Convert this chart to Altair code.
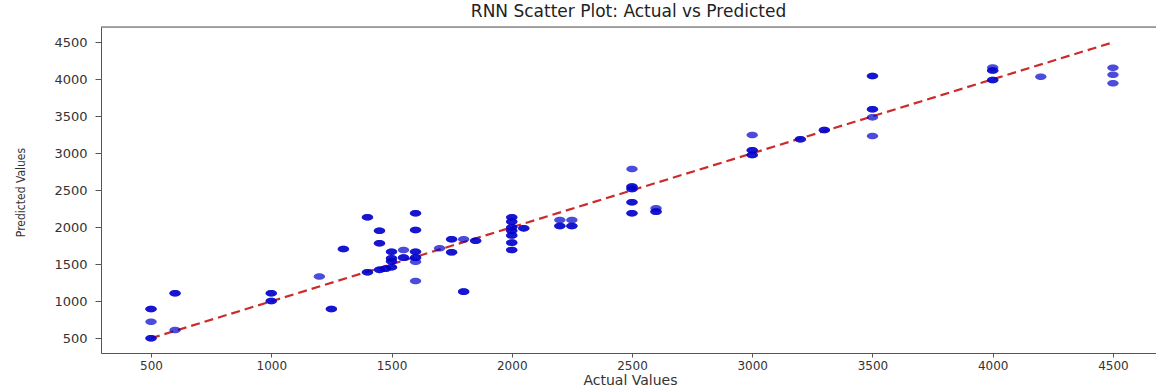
import altair as alt
import pandas as pd

# Values (repeated pairs = overlapping markers)
actual = [
    500, 500, 500, 500, 500,
    600, 600, 600,
    1000, 1000, 1000, 1000,
    1200,
    1250, 1250,
    1300, 1300,
    1400, 1400, 1400, 1400,
    1450, 1450, 1450, 1450, 1450, 1450,
    1475, 1475,
    1500, 1500, 1500, 1500, 1500, 1500, 1500, 1500,
    1550, 1550, 1550,
    1600, 1600, 1600, 1600, 1600, 1600, 1600, 1600, 1600, 1600,
    1700,
    1750, 1750, 1750, 1750,
    1800, 1800, 1800,
    1850, 1850,
    2000, 2000, 2000, 2000, 2000, 2000, 2000, 2000, 2000, 2000, 2000, 2000, 2000, 2000,
    2050, 2050,
    2200, 2200, 2200,
    2250, 2250, 2250,
    2500, 2500, 2500, 2500, 2500, 2500, 2500, 2500, 2500,
    2600, 2600, 2600,
    3000, 3000, 3000, 3000, 3000,
    3200, 3200,
    3300, 3300,
    3500, 3500, 3500, 3500, 3500, 3500,
    4000, 4000, 4000, 4000, 4000,
    4200,
    4500, 4500, 4500,
]
predicted = [
    500, 500, 724, 896, 896,
    1108, 1108, 612,
    1108, 1108, 1004, 1004,
    1335,
    896, 896,
    1707, 1707,
    2135, 2135, 1392, 1392,
    1954, 1954, 1784, 1784, 1425, 1425,
    1440, 1440,
    1670, 1670, 1581, 1581, 1540, 1540, 1460, 1460,
    1693, 1590, 1590,
    2189, 2189, 1964, 1964, 1670, 1670, 1590, 1590, 1535, 1274,
    1716,
    1838, 1838, 1662, 1662,
    1838, 1130, 1130,
    1819, 1819,
    2135, 2135, 2076, 2076, 2000, 2000, 1954, 1954, 1890, 1890, 1792, 1792, 1693, 1693,
    1986, 1986,
    2098, 2018, 2018,
    2098, 2018, 2018,
    2788, 2549, 2549, 2518, 2518, 2338, 2338, 2189, 2189,
    2257, 2211, 2211,
    3247, 3040, 3040, 2977, 2977,
    3189, 3189,
    3315, 3315,
    4045, 4045, 3595, 3595, 3486, 3234,
    4160, 4120, 4120, 3990, 3990,
    4035,
    4157, 4062, 3946,
]
ideal_line = [500, 4500]
tick_values = [500, 1000, 1500, 2000, 2500, 3000, 3500, 4000, 4500]

W, H = 1055, 326

df = pd.DataFrame({"Actual": actual, "Predicted": predicted})
ref = pd.DataFrame({"Actual": ideal_line, "Predicted": ideal_line})
one = pd.DataFrame({"k": [0]})

xscale = alt.Scale(domain=[292, 4679], nice=False, zero=False)
yscale = alt.Scale(domain=[301, 4707], nice=False, zero=False)

x_enc = alt.X(
    "Actual:Q", scale=xscale,
    axis=alt.Axis(
        values=tick_values, format="d", grid=False,
        labelFont="DejaVu Sans", labelFontSize=12, labelColor="#333",
        tickColor="#555", domainColor="#555", tickSize=4, labelPadding=3,
        title="Actual Values", titleFont="DejaVu Sans", titleFontSize=14,
        titleFontWeight="normal", titleColor="#333",
        titleX=529, titleY=27, titleAlign="center", titleBaseline="middle",
    ),
)
y_enc = alt.Y(
    "Predicted:Q", scale=yscale,
    axis=alt.Axis(
        values=tick_values, format="d", grid=False,
        labelFont="DejaVu Sans", labelFontSize=13, labelColor="#333",
        tickColor="#555", domainColor="#555", tickSize=6, labelPadding=8,
        title="Predicted Values",
        titleFont="Liberation Sans Narrow, DejaVu Sans Condensed, DejaVu Sans",
        titleFontSize=12, titleFontWeight="normal", titleColor="#333",
        titleAngle=270, titleX=-81, titleY=165,
        titleAlign="center", titleBaseline="middle",
    ),
)

ellipse = "M-1,0A1,0.58,0,1,1,1,0A1,0.58,0,1,1,-1,0Z"

line = alt.Chart(ref).mark_line(
    color="#cc2b2b", strokeWidth=2.2, strokeDash=[9, 5], clip=True
).encode(x=x_enc, y=y_enc)

points = alt.Chart(df).mark_point(
    shape=ellipse, filled=True, size=130, color="#0000cc",
    opacity=0.7, strokeWidth=0, clip=True
).encode(x=x_enc, y=y_enc)

top = alt.Chart(one).mark_rule(color="#555", strokeWidth=1).encode(
    x=alt.value(0), x2=alt.value(W), y=alt.value(0)
)

chart = alt.layer(line, points, top).properties(
    width=W, height=H,
    title=alt.TitleParams(
        "RNN Scatter Plot: Actual vs Predicted",
        font="DejaVu Sans", fontSize=17, fontWeight="normal",
        color="#222", anchor="middle", offset=6,
    ),
    autosize=alt.AutoSizeParams(type="none"),
    padding={"left": 101, "top": 27, "right": 0, "bottom": 33},
).configure_view(stroke=None).configure(background="white")

chart.save("out.html", embed_options={"renderer": "svg", "actions": False})
